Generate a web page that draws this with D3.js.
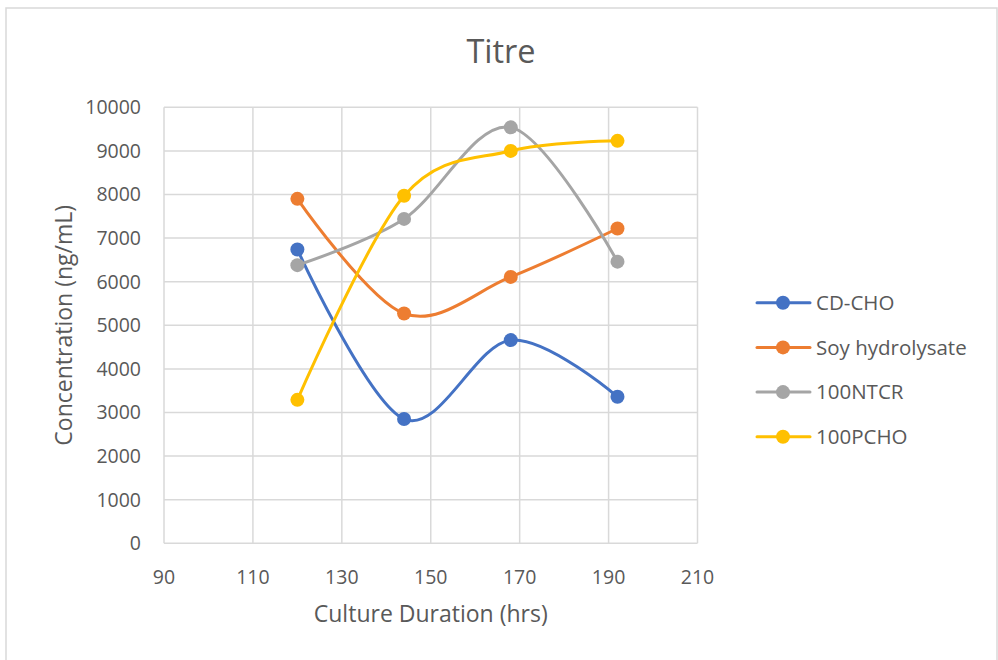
<!doctype html>
<html lang="en">

<head>
    <meta charset="utf-8">
    <title>Titre</title>
    <script src="https://cdn.jsdelivr.net/npm/d3@7"></script>
    <style>
        body {
            margin: 0;
            background: #ffffff;
        }

        svg {
            font-family: "Open Sans", sans-serif;
        }

        .grid line {
            stroke: #d9d9d9;
            stroke-width: 1.5;
        }

        .tick-label {
            fill: #595959;
            font-size: 19.5px;
        }
    </style>
</head>

<body>
    <svg></svg>
    <script>
        var width = 998;
        var height = 660;

        // hours
        var hours = [120, 144, 168, 192];
        // ng/mL
        var cdCho = [6740, 2850, 4660, 3360];
        var soy = [7900, 5270, 6110, 7220];
        var ntcr = [6380, 7440, 9540, 6460];
        var pcho = [3290, 7970, 9000, 9230];

        var seriesNames = ['CD-CHO', 'Soy hydrolysate', '100NTCR', '100PCHO'];
        var seriesValues = [cdCho, soy, ntcr, pcho];
        var colors = ['#4472C4', '#ED7D31', '#A5A5A5', '#FFC000'];

        var xTicks = [90, 110, 130, 150, 170, 190, 210];
        var yTicks = [0, 1000, 2000, 3000, 4000, 5000, 6000, 7000, 8000, 9000, 10000];

        var plotLeft = 164, plotRight = 697.5, plotTop = 107.3, plotBottom = 543.3;

        var xScale = d3.scaleLinear().domain([90, 210]).range([plotLeft, plotRight]);
        var yScale = d3.scaleLinear().domain([0, 10000]).range([plotBottom, plotTop]);

        var svg = d3.select('svg').attr('width', width).attr('height', height);

        // chart border
        svg.append('rect')
            .attr('x', 6).attr('y', 8)
            .attr('width', 991).attr('height', 700)
            .attr('fill', 'none')
            .attr('stroke', '#d9d9d9')
            .attr('stroke-width', 1.5);

        // gridlines
        var grid = svg.append('g').attr('class', 'grid');
        grid.selectAll('line.h')
            .data(yTicks)
            .enter()
            .append('line')
            .attr('class', 'h')
            .attr('x1', plotLeft).attr('x2', plotRight)
            .attr('y1', function (d) { return yScale(d); })
            .attr('y2', function (d) { return yScale(d); });
        grid.selectAll('line.v')
            .data(xTicks)
            .enter()
            .append('line')
            .attr('class', 'v')
            .attr('y1', plotTop).attr('y2', plotBottom)
            .attr('x1', function (d) { return xScale(d); })
            .attr('x2', function (d) { return xScale(d); });

        // tick labels
        svg.selectAll('text.ylab')
            .data(yTicks)
            .enter()
            .append('text')
            .attr('class', 'tick-label ylab')
            .attr('x', 141)
            .attr('y', function (d) { return yScale(d); })
            .attr('dy', '0.35em')
            .attr('text-anchor', 'end')
            .text(function (d) { return d; });

        svg.selectAll('text.xlab')
            .data(xTicks)
            .enter()
            .append('text')
            .attr('class', 'tick-label xlab')
            .attr('x', function (d) { return xScale(d); })
            .attr('y', 584)
            .attr('text-anchor', 'middle')
            .text(function (d) { return d; });

        // titles
        svg.append('text')
            .attr('x', 501).attr('y', 63)
            .attr('text-anchor', 'middle')
            .attr('font-size', '32.5px')
            .attr('fill', '#595959')
            .text('Titre');

        svg.append('text')
            .attr('x', (plotLeft + plotRight) / 2).attr('y', 622)
            .attr('text-anchor', 'middle')
            .attr('font-size', '23px')
            .attr('fill', '#595959')
            .text('Culture Duration (hrs)');

        svg.append('text')
            .attr('transform', 'translate(72,' + (plotTop + plotBottom) / 2 + ') rotate(-90)')
            .attr('text-anchor', 'middle')
            .attr('font-size', '23px')
            .attr('fill', '#595959')
            .text('Concentration (ng/mL)');

        // lines
        var line = d3.line()
            .x(function (d, i) { return xScale(hours[i]); })
            .y(function (d) { return yScale(d); })
            .curve(d3.curveCardinal.tension(0));

        seriesValues.forEach(function (vals, s) {
            svg.append('path')
                .attr('d', line(vals))
                .attr('fill', 'none')
                .attr('stroke', colors[s])
                .attr('stroke-width', 3)
                .attr('stroke-linecap', 'round');
            svg.selectAll('circle.s' + s)
                .data(vals)
                .enter()
                .append('circle')
                .attr('class', 's' + s)
                .attr('cx', function (d, i) { return xScale(hours[i]); })
                .attr('cy', function (d) { return yScale(d); })
                .attr('r', 7)
                .attr('fill', colors[s]);
        });

        // legend
        var legend = svg.append('g');
        seriesNames.forEach(function (name, i) {
            var y = 302.7 + i * 44.7;
            legend.append('line')
                .attr('x1', 757).attr('x2', 810)
                .attr('y1', y).attr('y2', y)
                .attr('stroke', colors[i])
                .attr('stroke-width', 3)
                .attr('stroke-linecap', 'round');
            legend.append('circle')
                .attr('cx', 783).attr('cy', y)
                .attr('r', 7)
                .attr('fill', colors[i]);
            legend.append('text')
                .attr('x', 816).attr('y', y)
                .attr('dy', '0.35em')
                .attr('font-size', '20.5px')
                .attr('fill', '#595959')
                .text(name);
        });
    </script>

</body>

</html>
